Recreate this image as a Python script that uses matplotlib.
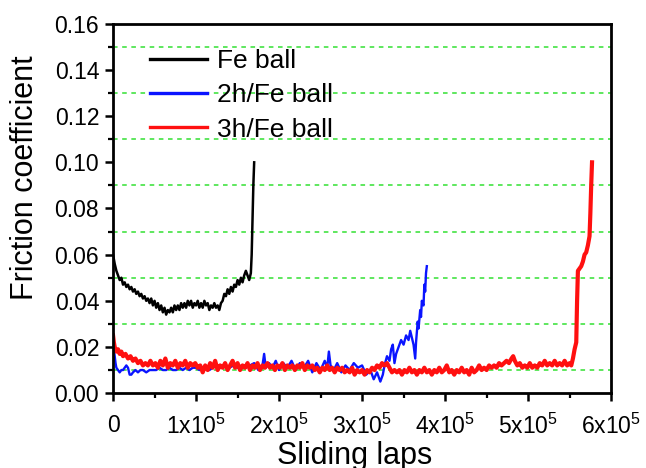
import numpy as np
import matplotlib
matplotlib.use("Agg")
import matplotlib.pyplot as plt
from matplotlib.ticker import MultipleLocator, FixedLocator

plt.rcParams['font.family'] = ['Liberation Sans', 'DejaVu Sans']
plt.rcParams['mathtext.fontset'] = 'custom'
plt.rcParams['mathtext.rm'] = 'Liberation Sans'

# sliding laps in thousands, friction coefficient
fe_x = [0, 2, 4, 6, 8, 10, 12, 14, 16, 18, 20, 22, 24, 26, 28, 30, 32, 34, 36, 38,
        40, 42, 44, 46, 48, 50, 52, 54, 56, 58, 60, 62, 64, 66, 68, 70, 72, 74, 76, 78,
        80, 82, 84, 86, 88, 90, 92, 94, 96, 98, 100, 102, 104, 106, 108, 110, 112, 114,
        116, 118, 120, 122, 124, 126, 128, 130, 132, 134, 136, 138, 140, 142, 144, 146,
        148, 150, 152, 154, 156, 158, 160, 162, 164, 166, 167, 168, 169, 170]
fe_y = [0.060, 0.056, 0.053, 0.051, 0.049, 0.050, 0.047, 0.048, 0.046, 0.047, 0.045,
        0.046, 0.044, 0.045, 0.043, 0.044, 0.042, 0.043, 0.041, 0.042, 0.040, 0.041,
        0.039, 0.041, 0.038, 0.040, 0.037, 0.039, 0.036, 0.038, 0.035, 0.037, 0.034,
        0.036, 0.035, 0.037, 0.035, 0.038, 0.036, 0.038, 0.036, 0.039, 0.037, 0.039,
        0.037, 0.040, 0.038, 0.040, 0.037, 0.039, 0.038, 0.040, 0.037, 0.039, 0.037,
        0.040, 0.038, 0.039, 0.036, 0.038, 0.037, 0.039, 0.037, 0.038, 0.036, 0.039,
        0.040, 0.043, 0.042, 0.045, 0.043, 0.046, 0.044, 0.047, 0.046, 0.049, 0.047,
        0.050, 0.048, 0.051, 0.053, 0.051, 0.049, 0.052, 0.060, 0.075, 0.090, 0.100]

h2_x = [0, 1, 2, 3, 4, 6, 8, 10, 12, 14, 16, 18, 20, 22, 24, 27, 30, 33, 36, 40, 44, 48,
        52, 56, 60, 64, 68, 72, 76, 80, 84, 88, 92, 96, 100, 104, 108, 112, 116, 120,
        125, 130, 135, 140, 145, 150, 155, 160, 165, 170, 175, 180, 182, 184, 188, 192,
        196, 200, 205, 210, 215, 220, 225, 230, 235, 240, 245, 250, 255, 258, 260, 262,
        266, 270, 275, 280, 285, 290, 295, 300, 305, 310, 314, 318, 322, 325, 327, 330,
        333, 335, 337, 339, 341, 344, 347, 350, 353, 356, 358, 360, 362, 364, 365, 367,
        368, 370, 371, 372, 374, 375, 376, 377, 378]
h2_y = [0.022, 0.019, 0.016, 0.013, 0.011, 0.010, 0.009, 0.010, 0.010, 0.011, 0.012,
        0.011, 0.008, 0.008, 0.009, 0.010, 0.009, 0.010, 0.010, 0.009, 0.010, 0.010,
        0.010, 0.011, 0.010, 0.010, 0.011, 0.010, 0.010, 0.011, 0.010, 0.011, 0.010,
        0.011, 0.011, 0.010, 0.011, 0.011, 0.010, 0.011, 0.012, 0.011, 0.012, 0.011,
        0.012, 0.011, 0.012, 0.011, 0.012, 0.013, 0.010, 0.012, 0.017, 0.011, 0.013,
        0.011, 0.014, 0.010, 0.013, 0.011, 0.014, 0.010, 0.013, 0.011, 0.014, 0.009,
        0.013, 0.010, 0.014, 0.011, 0.018, 0.012, 0.010, 0.013, 0.009, 0.012, 0.010,
        0.013, 0.011, 0.012, 0.008, 0.010, 0.006, 0.009, 0.005, 0.008, 0.012, 0.016,
        0.014, 0.019, 0.021, 0.013, 0.017, 0.020, 0.023, 0.021, 0.025, 0.023, 0.027,
        0.024, 0.021, 0.015, 0.022, 0.031, 0.028, 0.036, 0.033, 0.040, 0.038, 0.047,
        0.044, 0.052, 0.055]

h3_x = [0, 1, 2, 4, 6, 8, 10, 12, 15, 18, 21, 24, 27, 30, 33, 36, 39, 42, 45, 48, 51,
        54, 57, 60, 63, 66, 69, 72, 75, 78, 81, 84, 87, 90, 93, 96, 99, 102, 105, 108,
        111, 114, 117, 120, 123, 126, 129, 132, 135, 138, 141, 144, 147, 150, 153, 156,
        159, 162, 165, 168, 171, 174, 177, 180, 183, 186, 189, 192, 195, 198, 201, 204,
        207, 210, 213, 216, 219, 222, 225, 228, 231, 234, 237, 240, 243, 246, 249, 252,
        255, 258, 261, 264, 267, 270, 273, 276, 279, 282, 285, 288, 291, 294, 297, 300,
        303, 306, 309, 312, 315, 318, 321, 324, 327, 330, 333, 336, 339, 342, 345, 348,
        351, 354, 357, 360, 363, 366, 369, 372, 375, 378, 381, 384, 387, 390, 393, 396,
        399, 402, 405, 408, 411, 414, 417, 420, 423, 426, 429, 432, 435, 438, 441, 444,
        447, 450, 453, 456, 459, 462, 465, 468, 471, 474, 477, 480, 482, 484, 487, 490,
        493, 496, 499, 502, 505, 508, 511, 514, 517, 520, 523, 526, 529, 532, 535, 538,
        541, 544, 547, 550, 552, 554, 556, 558, 559, 560, 562, 564, 566, 568, 570, 572,
        574, 575, 576, 577]
h3_y = [0.025, 0.022, 0.020, 0.018, 0.019, 0.017, 0.018, 0.016, 0.017, 0.015, 0.016,
        0.014, 0.015, 0.013, 0.014, 0.012, 0.013, 0.012, 0.014, 0.012, 0.013, 0.011,
        0.014, 0.012, 0.015, 0.011, 0.013, 0.012, 0.014, 0.011, 0.013, 0.012, 0.014,
        0.011, 0.013, 0.012, 0.013, 0.011, 0.012, 0.009, 0.012, 0.010, 0.013, 0.011,
        0.014, 0.010, 0.012, 0.011, 0.013, 0.010, 0.012, 0.014, 0.011, 0.013, 0.010,
        0.012, 0.011, 0.013, 0.010, 0.012, 0.011, 0.013, 0.010, 0.012, 0.011, 0.013,
        0.011, 0.012, 0.010, 0.012, 0.011, 0.013, 0.010, 0.012, 0.011, 0.012, 0.010,
        0.012, 0.011, 0.013, 0.010, 0.012, 0.011, 0.012, 0.010, 0.011, 0.009, 0.011,
        0.010, 0.012, 0.010, 0.011, 0.009, 0.011, 0.010, 0.011, 0.009, 0.010, 0.009,
        0.011, 0.008, 0.010, 0.009, 0.010, 0.008, 0.010, 0.009, 0.011, 0.010, 0.012,
        0.011, 0.013, 0.012, 0.013, 0.011, 0.009, 0.010, 0.009, 0.010, 0.008, 0.010,
        0.009, 0.011, 0.009, 0.010, 0.008, 0.010, 0.009, 0.011, 0.009, 0.010, 0.008,
        0.010, 0.009, 0.011, 0.009, 0.010, 0.012, 0.009, 0.010, 0.008, 0.010, 0.009,
        0.011, 0.009, 0.010, 0.008, 0.011, 0.009, 0.010, 0.012, 0.010, 0.011, 0.010,
        0.012, 0.011, 0.012, 0.011, 0.013, 0.012, 0.013, 0.014, 0.013, 0.015, 0.016,
        0.014, 0.012, 0.013, 0.011, 0.012, 0.011, 0.013, 0.011, 0.012, 0.011, 0.013,
        0.012, 0.014, 0.012, 0.013, 0.012, 0.014, 0.012, 0.013, 0.012, 0.014, 0.012,
        0.013, 0.012, 0.015, 0.019, 0.022, 0.040, 0.053, 0.054, 0.055, 0.057, 0.060,
        0.061, 0.064, 0.068, 0.078, 0.090, 0.100]

x_ticks = [0, 1e5, 2e5, 3e5, 4e5, 5e5, 6e5]
x_labels = ['0', '1x10$^5$', '2x10$^5$', '3x10$^5$', '4x10$^5$', '5x10$^5$', '6x10$^5$']

fig = plt.figure(figsize=(6.46, 4.68), dpi=100)
ax = fig.add_axes([0.175, 0.160, 0.771, 0.789])

ax.plot(np.array(fe_x) * 1000, fe_y, color='black', lw=1.8, label='Fe ball')
ax.plot(np.array(h2_x) * 1000, h2_y, color='#0a14ff', lw=1.7, label='2h/Fe ball')
ax.plot(np.array(h3_x) * 1000, h3_y, color='#ff1010', lw=3.0, label='3h/Fe ball')

ax.set_xlim(0, 6e5)
ax.set_ylim(0, 0.16)
ax.set_xticks(x_ticks)
ax.set_xticklabels(x_labels)
ax.xaxis.set_minor_locator(MultipleLocator(0.5e5))
ax.yaxis.set_major_locator(MultipleLocator(0.02))
ax.yaxis.set_minor_locator(FixedLocator([0.01, 0.03, 0.05, 0.07, 0.09, 0.11, 0.13, 0.15]))
ax.yaxis.set_major_formatter(plt.FuncFormatter(lambda v, p: f'{v:.2f}'))
ax.grid(which='minor', axis='y', color='#33e033', ls=(0, (3, 3)), lw=1.1)

ax.tick_params(which='major', direction='out', length=6, width=1.8, labelsize=16.5)
ax.tick_params(axis='y', which='major', pad=4)
ax.tick_params(axis='x', which='major', pad=9)
ax.tick_params(which='minor', direction='out', length=3.5, width=1.6)
for s in ax.spines.values():
    s.set_linewidth(2.0)

ax.set_xlabel('Sliding laps', fontsize=22)
ax.xaxis.set_label_coords(0.486, -0.13, transform=ax.transAxes)
ax.xaxis.label.set_va('top')
ax.set_ylabel('Friction coefficient', fontsize=22)
ax.yaxis.set_label_coords(-0.146, 0.583, transform=ax.transAxes)

leg = ax.legend(loc='upper left', bbox_to_anchor=(0.074, 0.932), frameon=False,
                fontsize=19, handlelength=2.16, labelspacing=0.39, handletextpad=0.38,
                borderaxespad=0, borderpad=0)
for h in leg.get_lines():
    h.set_linewidth(2.4)

fig.savefig('out.png', dpi=100)
